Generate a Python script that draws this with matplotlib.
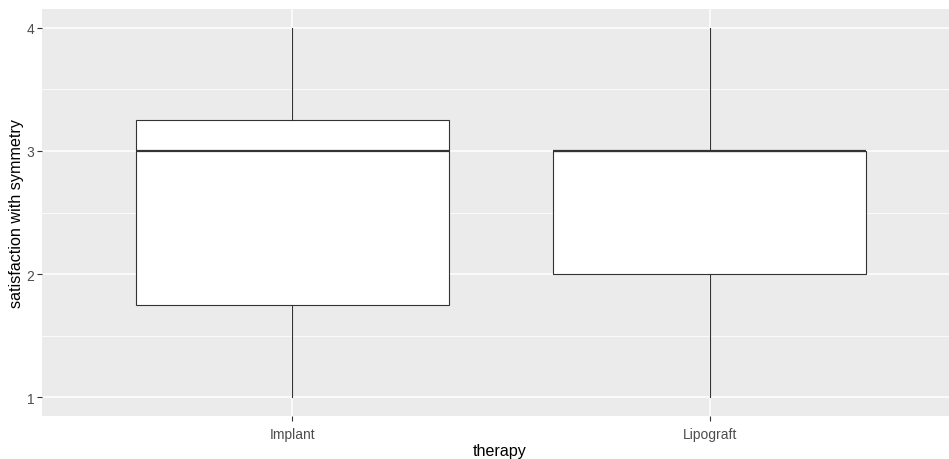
import matplotlib.pyplot as plt
from matplotlib.ticker import MultipleLocator

plt.rcParams['font.family'] = ['Liberation Sans', 'DejaVu Sans']

# five-number summaries per therapy group
groups = ['Implant', 'Lipograft']
mins = [1, 1]
q1s = [1.75, 2]
medians = [3, 3]
q3s = [3.25, 3]
maxs = [4, 4]

stats = []
for g, lo, a, m, b, hi in zip(groups, mins, q1s, medians, q3s, maxs):
    stats.append({'label': g, 'whislo': lo, 'q1': a, 'med': m, 'q3': b,
                  'whishi': hi, 'fliers': []})

fig = plt.figure(figsize=(9.49, 4.6), dpi=100)
ax = fig.add_axes([42 / 949, 1 - 417 / 460, 1 - 42 / 949, 407 / 460])
ax.set_facecolor('#EBEBEB')

ax.bxp(stats, positions=[1, 2], widths=0.75, patch_artist=True,
       showcaps=False,
       boxprops=dict(facecolor='white', edgecolor='#333333', linewidth=0.8),
       medianprops=dict(color='#333333', linewidth=1.6),
       whiskerprops=dict(color='#333333', linewidth=0.8),
       zorder=3)

ax.set_xlim(0.4, 2.573)
ax.set_ylim(0.85, 4.15)
ax.yaxis.set_major_locator(MultipleLocator(1))
ax.yaxis.set_minor_locator(MultipleLocator(0.5))
ax.set_xticks([1, 2])
ax.set_xticklabels(groups)

ax.grid(which='major', color='white', linewidth=1.1, zorder=0)
ax.grid(which='minor', axis='y', color='white', linewidth=0.55, zorder=0)
ax.set_axisbelow(True)
for s in ax.spines.values():
    s.set_visible(False)

ax.tick_params(which='major', length=3.5, width=0.8, color='#333333',
               labelcolor='#4D4D4D', labelsize=10)
ax.tick_params(axis='x', pad=4.5)
ax.tick_params(axis='y', pad=2)
ax.tick_params(which='minor', length=0)

ax.set_xlabel('therapy', fontsize=11.6)
ax.set_ylabel('satisfaction with symmetry', fontsize=11.6)
# axis titles placed in figure pixels
ax.xaxis.set_label_coords(500 / 949, 8 / 460, transform=fig.transFigure)
ax.yaxis.set_label_coords(17 / 949, 0.5 * (1 - 417 / 460 + 1 - 10 / 460),
                          transform=fig.transFigure)
ax.xaxis.label.set_va('center')
ax.yaxis.label.set_va('center')

fig.savefig('out.png', dpi=100)
